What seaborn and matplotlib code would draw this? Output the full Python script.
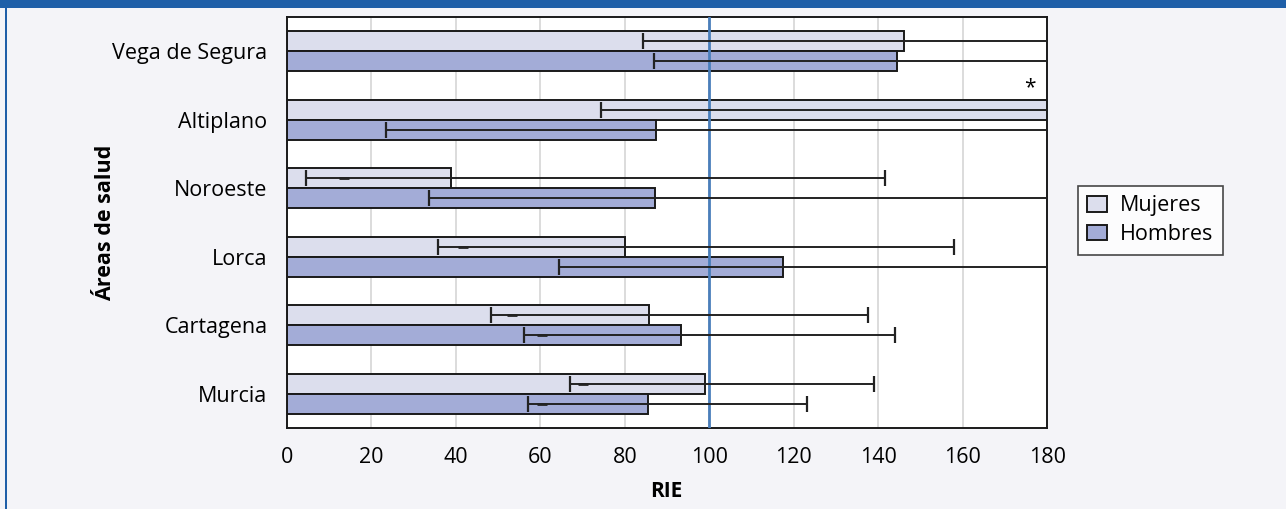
import numpy as np
import pandas as pd
import matplotlib
matplotlib.use("Agg")
import matplotlib.pyplot as plt
import seaborn as sns
from matplotlib.patches import Patch, Rectangle

# Datos (RIE por área de salud y sexo)
areas = ["Vega de Segura", "Altiplano", "Noroeste", "Lorca", "Cartagena", "Murcia"]
mujeres = [146.0, 190.0, 38.8, 80.1, 85.8, 99.1]
hombres = [144.4, 87.4, 87.2, 117.5, 93.3, 85.4]

# intervalos de confianza (los que pasan de 180 quedan cortados)
mujeres_inf = [84.2, 74.3, 4.4, 35.8, 48.3, 67.0]
mujeres_sup = [215.0, 260.0, 141.5, 158.0, 137.5, 138.9]
hombres_inf = [87.0, 23.4, 33.6, 64.3, 56.2, 57.1]
hombres_sup = [210.0, 230.0, 200.0, 195.0, 143.9, 123.1]

# pequeñas marcas dentro de la línea de error
mujeres_marca = [np.nan, np.nan, 13.5, 41.7, 53.2, 70.1]
hombres_marca = [np.nan, np.nan, np.nan, np.nan, 60.5, 60.3]

x_ticks = [0, 20, 40, 60, 80, 100, 120, 140, 160, 180]
sexos = ["Mujeres", "Hombres"]

col_muj = "#dcdeed"
col_hom = "#a3acd7"
fondo = "#f4f4f8"
azul = "#1f5fa8"

df = pd.DataFrame({
    "area": areas * 2,
    "sexo": [sexos[0]] * len(areas) + [sexos[1]] * len(areas),
    "RIE": mujeres + hombres,
})

sns.set_style("white")
plt.rcParams["font.family"] = ["Open Sans", "DejaVu Sans"]
plt.rcParams["text.color"] = "black"
plt.rcParams["xtick.labelcolor"] = "black"
plt.rcParams["ytick.labelcolor"] = "black"

fig = plt.figure(figsize=(12.86, 5.09), dpi=100, facecolor=fondo)
ax = fig.add_axes([0.2232, 0.1591, 0.5910, 0.8075])
ax.set_facecolor("white")

sns.barplot(data=df, y="area", x="RIE", hue="sexo", hue_order=sexos,
            palette=[col_muj, col_hom], saturation=1, width=0.584,
            edgecolor="#1a1a1a", linewidth=1.4, legend=False, ax=ax, zorder=2)

ax.set_xlim(0, 180)
ax.set_ylim(5.5, -0.5)

# errores
for cont, inf, sup, marca in [(ax.containers[0], mujeres_inf, mujeres_sup, mujeres_marca),
                              (ax.containers[1], hombres_inf, hombres_sup, hombres_marca)]:
    ys = np.array([b.get_y() + b.get_height() / 2 for b in cont])
    inf = np.array(inf)
    sup = np.array(sup)
    mid = (inf + sup) / 2
    ax.errorbar(mid, ys, xerr=[mid - inf, sup - mid], fmt="none", ecolor="#222222",
                elinewidth=1.4, capsize=5.5, capthick=1.6, zorder=4)
    ax.plot(marca, ys, linestyle="none", marker="_", markersize=7,
            markeredgewidth=2.0, color="#222222", zorder=5)

# línea de referencia
ax.axvline(100, color="#4a7ebb", lw=2, zorder=3)

# asterisco Altiplano mujeres
b = ax.containers[0][1]
ax.text(176, b.get_y() - 0.02, "*", ha="center", va="bottom", fontsize=15, zorder=6)

# rejilla y ejes
ax.set_xticks(x_ticks)
ax.xaxis.grid(True, color="#d9d9d9", lw=1.3, zorder=0)
ax.yaxis.grid(False)
ax.set_axisbelow(True)
for s in ax.spines.values():
    s.set_visible(True)
    s.set_color("#1a1a1a")
    s.set_linewidth(1.4)

ax.set_yticks(np.arange(-0.5, 6.0, 1.0))
ax.set_yticklabels([])
ax.set_yticks(range(len(areas)), minor=True)
ax.set_yticklabels(areas, minor=True)
ax.tick_params(axis="y", which="major", length=9.5, width=1.4, color="#1a1a1a")
ax.tick_params(axis="y", which="minor", length=0, pad=14, labelsize=15.5)
ax.tick_params(axis="x", length=8.5, width=1.4, color="#1a1a1a", pad=5, labelsize=15.5)

ax.set_xlabel("")
ax.set_ylabel("")
fig.text(0.5180, 0.034, "RIE", ha="center", va="center", fontsize=15, fontweight="bold")
fig.text(0.0817, 0.5625, "Áreas de salud", ha="center", va="center", rotation=90,
         fontsize=15.5, fontweight="bold")

# leyenda
handles = [Patch(facecolor=col_muj, edgecolor="#1a1a1a", linewidth=1.4),
           Patch(facecolor=col_hom, edgecolor="#1a1a1a", linewidth=1.4)]
leg = fig.legend(handles, sexos, loc="upper left", bbox_to_anchor=(0.838, 0.635),
                 frameon=True, fancybox=False, fontsize=15.5, handlelength=0.9,
                 handleheight=0.75, handletextpad=0.6, labelspacing=0.35,
                 borderpad=0.45, borderaxespad=0)
leg.get_frame().set_edgecolor("#1a1a1a")
leg.get_frame().set_linewidth(1.2)
leg.get_frame().set_facecolor("white")

# marco azul de la figura
fig.patches.append(Rectangle((0, 1 - 8 / 509), 1, 8 / 509, transform=fig.transFigure,
                             facecolor=azul, edgecolor="none", zorder=10))
fig.patches.append(Rectangle((5 / 1286, 0), 2.2 / 1286, 1, transform=fig.transFigure,
                             facecolor=azul, edgecolor="none", zorder=10))

fig.savefig("out.png", dpi=100, facecolor=fondo)
